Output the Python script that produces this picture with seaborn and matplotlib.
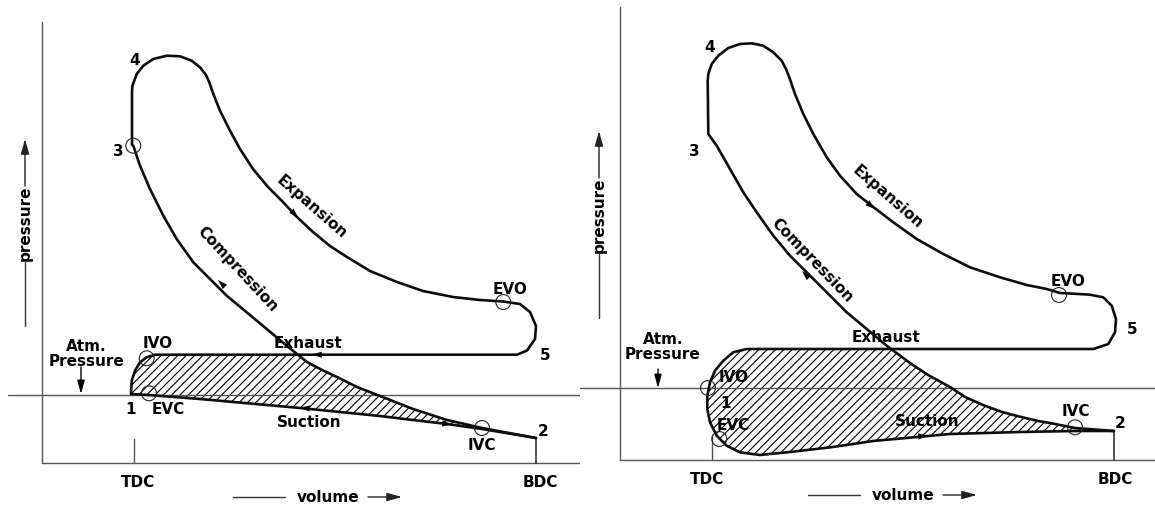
import numpy as np
import matplotlib
matplotlib.use("Agg")
import matplotlib.pyplot as plt
import seaborn as sns

sns.set_style("white")
plt.rcParams["font.family"] = ["DejaVu Sans"]
plt.rcParams["hatch.linewidth"] = 0.8
plt.rcParams["text.color"] = "black"

# ---------------- Left diagram (volume, pressure) ----------------
# 3 -> 4 -> expansion -> EVO -> 5 -> exhaust -> IVO -> 1
L_cycle_v = [90, 90, 90.3, 94.7, 101.3, 111.3, 124.7, 138, 149.7, 158, 164, 167.3,
             171.3, 178, 188, 198, 211, 226, 240, 255, 271, 288, 305, 328, 355,
             381, 411, 438, 461, 478, 488, 494, 493, 485, 475, 113, 104.7, 98,
             93, 89.7, 89]
L_cycle_p = [318, 371, 377, 389, 397.3, 404, 407.3, 406.7, 402.3, 395.7, 388, 380.7,
             369, 352.3, 332.3, 314, 294, 276, 262, 246, 231, 217, 206, 192, 181,
             172, 166, 163, 161.5, 159, 151, 137, 124, 112.5, 108.3, 108.3, 105.7,
             100.7, 92.3, 82.3, 69]
# 1 -> suction -> 2
L_suction_v = [89, 107, 158, 258, 338, 371, 405, 440, 494]
L_suction_p = [69, 68, 64, 55, 47, 43, 39, 34, 25]
# compression, listed from 3 down to 2
L_comp_v = [91.3, 98, 108, 121.3, 134.7, 151.3, 168, 184.7, 204.7, 224.7, 244.7,
            265, 280, 295, 315, 338, 371, 405, 440, 494]
L_comp_p = [317.3, 297.3, 274, 247.3, 224, 200.7, 184, 167.3, 150.7, 134, 117.3,
            101, 93, 86, 76, 67, 54, 43, 35, 25]
# circles: state 3, IVO, EVC, EVO, IVC
L_mark_v = [91.3, 104.7, 107, 461.3, 440]
L_mark_p = [317.3, 104.7, 69.7, 161, 35]
L_atm = 68.5

# ---------------- Right diagram (volume, pressure) ----------------
R_cycle_v = [88.3, 87.7, 88.3, 91.7, 98.3, 108.3, 120, 131.7, 143.3, 153.3, 161.7,
             166, 169.3, 175, 183.3, 193.3, 206.7, 220, 236.7, 253.3, 273.3, 296.7,
             323.3, 350, 380, 406.7, 426.7, 440, 446.7, 470, 483.3, 491.7, 496,
             495, 488.3, 473.3, 126.7, 113.3, 103.3, 95, 90, 87.3]
R_cycle_p = [326, 379.3, 386, 396, 404.3, 412, 416, 416.7, 414.3, 407.7, 399.3,
             391, 382.7, 366, 346, 326, 302.7, 284.3, 266, 253, 237.7, 221,
             206, 192.7, 182.7, 175, 171, 167, 166.7, 165.3, 162.7, 154.3, 141,
             127.7, 116, 111, 111, 107.7, 99.3, 89.3, 77.7, 64.3]
R_suction_v = [87.3, 87.3, 90, 96.7, 106.7, 120, 140, 170, 213, 253, 330, 400, 455, 494]
R_suction_p = [64.3, 51, 37.7, 24.3, 14.3, 7.7, 5, 8, 13, 19, 26, 28, 29, 29]
R_comp_v = [88.3, 96.7, 110, 123.3, 136.7, 153.3, 170, 186.7, 206.7, 226.7, 246.7,
            266.7, 290, 308, 330, 345, 363, 382, 397, 418, 430, 455, 494]
R_comp_p = [326, 314.3, 291, 267.7, 247.7, 224.3, 204.3, 187.7, 167.7, 147.7, 131,
            114.3, 97, 85, 73, 63, 55, 48, 44, 39, 37, 32, 29]
# circles: IVO, EVC, EVO, IVC
R_mark_v = [88, 99.3, 439, 455]
R_mark_p = [72, 21, 165, 32.7]
R_atm = 71.7

TDC_V = 92
BDC_V = 494

LINE = "#0d0d0d"
AXC = "#555555"
FS = 11


def hatch_outline(cv, cp, sv, sp, qv, qp):
    """Region enclosed by the exhaust line, the intake stroke and compression."""
    cv, cp = np.asarray(cv, float), np.asarray(cp, float)
    sv, sp = np.asarray(sv, float), np.asarray(sp, float)
    qv, qp = np.asarray(qv, float), np.asarray(qp, float)
    i_right = int(np.argmax(cv))
    tv, tp = cv[i_right:], cp[i_right:]
    j = int(np.argmax(-np.diff(tv)))
    level = tp[j]
    cross_v = np.interp(level, qp[::-1], qv[::-1])
    xs = [cross_v] + list(tv[j + 1:]) + list(sv[1:])
    ys = [level] + list(tp[j + 1:]) + list(sp[1:])
    keep = qp < level
    xs += list(qv[keep][::-1])
    ys += list(qp[keep][::-1])
    return xs, ys


def curve(ax, v, p):
    sns.lineplot(x=v, y=p, sort=False, estimator=None, color=LINE, lw=1.9,
                 ax=ax, legend=False, solid_joinstyle="round",
                 solid_capstyle="round")


def draw_panel(ax, cfg):
    left, right, bottom, top = cfg["frame"]
    ax.plot([0, 0], [0, cfg["ytop"]], color=AXC, lw=1.0)
    ax.plot([0, right], [0, 0], color=AXC, lw=1.0)
    ax.plot([cfg["atm_from"], right], [cfg["atm"], cfg["atm"]], color=AXC, lw=1.0)
    ax.plot([TDC_V, TDC_V], [0, cfg["tdc_top"]], color=AXC, lw=1.0)
    ax.plot([BDC_V, BDC_V], [0, cfg["bdc_top"]], color="#333333", lw=1.2)

    xs, ys = hatch_outline(cfg["cycle"][0], cfg["cycle"][1], cfg["suction"][0],
                           cfg["suction"][1], cfg["comp"][0], cfg["comp"][1])
    ax.fill(xs, ys, facecolor="none", edgecolor="black", hatch="////", lw=0)

    curve(ax, *cfg["cycle"])
    curve(ax, *cfg["suction"])
    curve(ax, *cfg["comp"])

    sns.scatterplot(x=cfg["marks"][0], y=cfg["marks"][1], marker="o", s=115,
                    facecolor="none", edgecolor="#222222", linewidth=0.8, ax=ax,
                    zorder=5)

    for txt, v, p, kw in cfg["labels"]:
        ax.text(v, p, txt, ha="center", va="center", fontsize=FS,
                fontweight="bold", color="black", **kw)

    # atmospheric pressure note and its pointer
    nv, np_ = cfg["atm_note"]
    ax.text(nv, np_, "Atm.\nPressure", ha="center", va="center", fontsize=FS,
            fontweight="bold", color="black", multialignment="center",
            linespacing=0.95)
    av, a0, a1 = cfg["atm_arrow"]
    ax.annotate("", xy=(av, a1), xytext=(av, a0),
                arrowprops=dict(arrowstyle="-|>,head_length=0.8,head_width=0.22",
                                color="black", lw=1.0, shrinkA=0, shrinkB=0))

    for tail, tip in cfg["arrows"]:
        ax.annotate("", xy=tip, xytext=tail,
                    arrowprops=dict(arrowstyle="-|>,head_length=0.7,head_width=0.22",
                                    color="black", lw=0.01, shrinkA=0, shrinkB=0))

    pv, pc = cfg["pressure_cap"]
    ax.text(pv, pc, "pressure", rotation=90, ha="center", va="center",
            fontsize=FS, fontweight="bold", color="black")
    ax.plot([pv, pv], [pc - 40, pc - 104], color="#333333", lw=1.0)
    ax.annotate("", xy=(pv, pc + 83), xytext=(pv, pc + 36),
                arrowprops=dict(arrowstyle="-|>,head_length=0.9,head_width=0.25",
                                color="#222222", lw=1.0, shrinkA=0, shrinkB=0))
    vv, vp = cfg["volume_cap"]
    ax.text(vv, vp, "volume", ha="center", va="center", fontsize=FS,
            fontweight="bold", color="black")
    ax.plot([vv - 95, vv - 43], [vp, vp], color="#333333", lw=1.0)
    ax.annotate("", xy=(vv + 74, vp), xytext=(vv + 40, vp),
                arrowprops=dict(arrowstyle="-|>,head_length=0.9,head_width=0.25",
                                color="#222222", lw=1.0, shrinkA=0, shrinkB=0))

    ax.set_xlim(left, right)
    ax.set_ylim(bottom, top)
    ax.set_axis_off()


fig = plt.figure(figsize=(11.55, 5.06), dpi=100)
axL = fig.add_axes([0, 0, 580 / 1155, 1])
axR = fig.add_axes([580 / 1155, 0, 575 / 1155, 1])

left_cfg = dict(
    frame=(-42, 538, -42, 464),
    ytop=441, atm=L_atm, atm_from=-34, tdc_top=24, bdc_top=25,
    cycle=(L_cycle_v, L_cycle_p), suction=(L_suction_v, L_suction_p),
    comp=(L_comp_v, L_comp_p), marks=(L_mark_v, L_mark_p),
    labels=[
        ("4", 93, 404, {}), ("3", 76, 312, {}),
        ("Expansion", 270, 257, dict(rotation=-41)),
        ("Compression", 195, 195, dict(rotation=-47)),
        ("EVO", 468, 175, {}), ("5", 503, 109, {}),
        ("Exhaust", 266, 121, {}), ("IVO", 116, 120, {}),
        ("1", 89, 54, {}), ("EVC", 126, 54, {}),
        ("Suction", 267, 41, {}), ("IVC", 440, 18, {}),
        ("2", 501, 32, {}), ("TDC", 96, -19, {}), ("BDC", 498, -19, {}),
    ],
    atm_note=(44, 110),
    arrows=[((248, 254), (256, 245)), ((183, 176), (176, 183)),
            ((282, 108.3), (270, 108.3)), ((268, 54.5), (258, 55.3)),
            ((400, 39.6), (410, 38.5))],
    pressure_cap=(-17, 241), volume_cap=(286, -34),
    atm_arrow=(39, 96, 69),
)

right_cfg = dict(
    frame=(-40, 535, -45, 461),
    ytop=453, atm=R_atm, atm_from=-40, tdc_top=25, bdc_top=29,
    cycle=(R_cycle_v, R_cycle_p), suction=(R_suction_v, R_suction_p),
    comp=(R_comp_v, R_comp_p), marks=(R_mark_v, R_mark_p),
    labels=[
        ("4", 90, 414, {}), ("3", 74, 310, {}),
        ("Expansion", 268, 264, dict(rotation=-41)),
        ("Compression", 192, 200, dict(rotation=-46)),
        ("EVO", 448, 180, {}), ("5", 512, 132, {}),
        ("Exhaust", 266, 124, {}), ("IVO", 114, 83, {}),
        ("1", 106, 58, {}), ("EVC", 113, 35, {}),
        ("Suction", 307, 39, {}), ("IVC", 456, 49, {}),
        ("2", 500, 37, {}), ("TDC", 87, -19, {}), ("BDC", 495, -19, {}),
    ],
    atm_note=(43, 114),
    arrows=[((247, 257.5), (255, 251)), ((189, 182), (182, 189)),
            ((298, 23.5), (308, 24.3))],
    pressure_cap=(-21, 246), volume_cap=(283, -35),
    atm_arrow=(38, 91, 72),
)

draw_panel(axL, left_cfg)
draw_panel(axR, right_cfg)

fig.savefig("out.png", dpi=100, facecolor="white")
